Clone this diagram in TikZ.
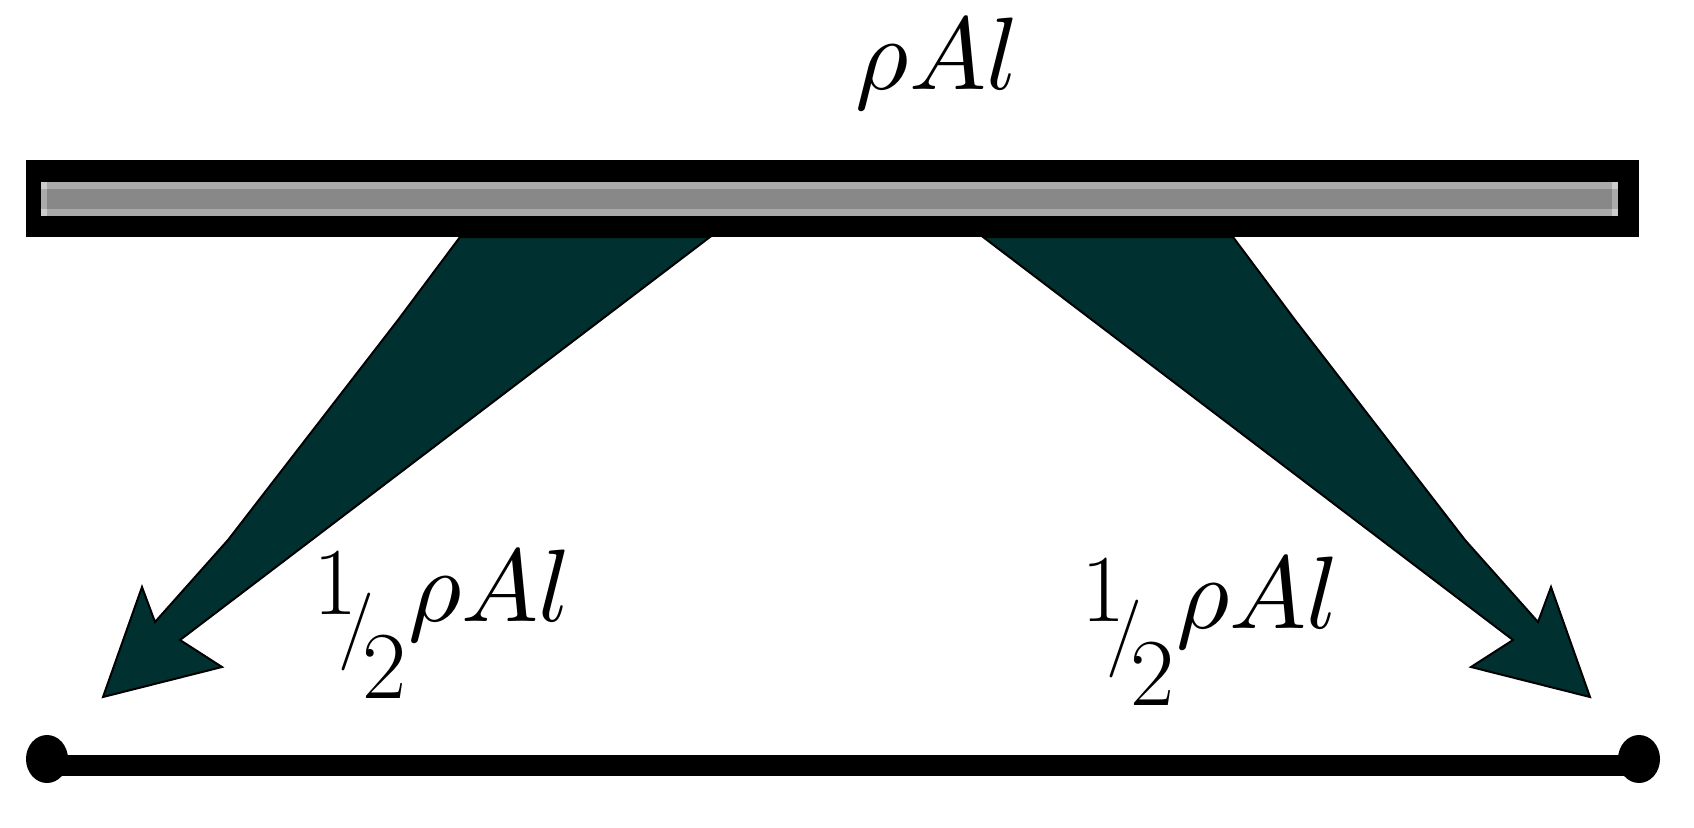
\documentclass[tikz,border=0pt]{standalone}
\usepackage{graphicx}
\usepackage{tikz}
\definecolor{arrowfill}{RGB}{0,48,48}
\definecolor{barmid}{RGB}{136,136,136}
\definecolor{baredge}{RGB}{170,170,170}
\definecolor{barcap}{RGB}{204,204,204}
\newcommand{\massexpr}{\scalebox{10.3}{\normalsize$\rho A l$}}
\newcommand{\halfmass}{%
  \fontsize{96}{100}\selectfont 1\kern-19pt%
  \raisebox{-37pt}{\fontsize{78}{80}\selectfont /}\kern-12pt%
  \raisebox{-84pt}{2}\kern2pt%
  \raisebox{-7pt}{\massexpr}}
\tikzset{
  forcearrow/.style={fill=arrowfill, draw=black, line width=2pt, line join=miter},
  lbl/.style={inner sep=0pt, anchor=base},
  halflbl/.style={inner sep=0pt, anchor=base west},
  beam/.style={line width=21pt},
  enddot/.style={fill=black, draw=none}
}
\begin{document}
\begin{tikzpicture}[x=1pt,y=-1pt]
\useasboundingbox (0,0) rectangle (1694,827);
% left tapered arrow
\draw[forcearrow] (460,237) -- (710,237) -- (180,640) -- (222,667) -- (103,697)
   -- (142,587) -- (155,622) -- (228,540) -- (398,320) -- cycle;
% right tapered arrow (mirror image)
\begin{scope}[xshift=1693pt, xscale=-1]
\draw[forcearrow] (460,237) -- (710,237) -- (180,640) -- (222,667) -- (103,697)
   -- (142,587) -- (155,622) -- (228,540) -- (398,320) -- cycle;
\end{scope}
% mass bar
\fill[black] (26,160) rectangle (1639,237);
\fill[baredge] (41,182) rectangle (1618,216);
\fill[barmid] (47,189) rectangle (1612,209);
\fill[barcap] (41,182) rectangle (47,189);
\fill[barcap] (41,209) rectangle (47,216);
\fill[barcap] (1612,182) rectangle (1618,189);
\fill[barcap] (1612,209) rectangle (1618,216);
% top label
\node[lbl] (mass) at (937.5,89) {\massexpr};
% half-mass labels
\node[halflbl] (lhalf) at (313,614) {\halfmass};
\node[halflbl] (rhalf) at (1081,621) {\halfmass};
% bottom line with end dots
\coordinate (la) at (47,759);
\coordinate (lb) at (1639,759);
\draw[beam] (47,765) -- (1639,765);
\fill[enddot] (la) ellipse [x radius=21pt, y radius=24pt];
\fill[enddot] (lb) ellipse [x radius=21pt, y radius=24pt];
\end{tikzpicture}
\end{document}
